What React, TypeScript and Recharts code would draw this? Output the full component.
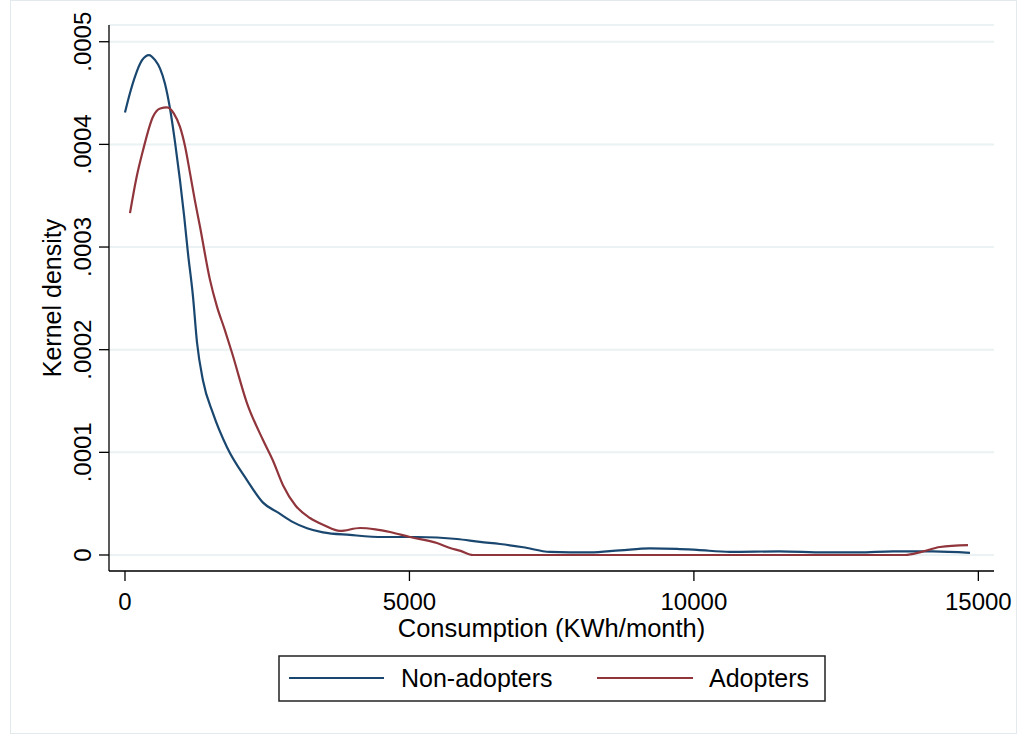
import React from "react";
import { CartesianGrid, Line, LineChart, XAxis, YAxis } from "recharts";

// kernel density estimates (x in KWh/month)
const NON_X = [0, 88, 176, 300, 422, 530, 615, 703, 800, 880, 967, 1040, 1107, 1195, 1266, 1371, 1547, 1793, 2144, 2426, 2700, 2953, 3200, 3480, 3955, 4535, 5133, 5836, 6240, 6592, 7000, 7471, 8174, 8700, 9229, 9700, 10055, 10635, 11500, 12300, 12900, 13500, 14200, 14853];
const NON_Y = [0.000431, 0.00045, 0.000466, 0.000482, 0.000487, 0.000482, 0.000474, 0.000459, 0.000432, 0.000402, 0.000365, 0.00033, 0.000294, 0.000252, 0.000207, 0.00017, 0.000138, 0.000105, 0.000073, 0.000051, 0.000041, 0.000032, 0.000026, 0.000022, 0.0000195, 0.0000175, 0.0000175, 0.0000156, 0.0000127, 0.0000107, 0.0000075, 0.000003, 0.0000025, 0.0000045, 0.0000065, 0.000006, 0.000005, 0.000003, 0.0000035, 0.0000025, 0.0000025, 0.0000035, 0.0000035, 0.000002];

const ADOPT_X = [88, 200, 316, 492, 620, 738, 860, 967, 1060, 1143, 1230, 1318, 1494, 1617, 1750, 1881, 2144, 2426, 2600, 2777, 3000, 3252, 3500, 3779, 4131, 4400, 4658, 5010, 5484, 5713, 5900, 6117, 13711, 14000, 14326, 14818];
const ADOPT_Y = [0.000333, 0.000367, 0.000394, 0.000427, 0.000435, 0.000436, 0.00043, 0.000417, 0.000397, 0.000372, 0.000345, 0.00032, 0.000268, 0.000242, 0.00022, 0.000197, 0.000148, 0.000112, 0.000092, 0.000068, 0.000048, 0.000036, 0.000029, 0.0000234, 0.0000263, 0.000025, 0.0000224, 0.0000175, 0.0000117, 0.0000068, 0.000004, 0, 0, 0.000003, 0.0000078, 0.0000097];

const X_TICKS = [0, 5000, 10000, 15000];
const Y_TICKS = [0, 0.0001, 0.0002, 0.0003, 0.0004, 0.0005];
const Y_TICK_LABELS = ["0", ".0001", ".0002", ".0003", ".0004", ".0005"];

const SERIES = ["Non-adopters", "Adopters"];
const COLORS = ["#1a476f", "#90353b"];

const FONT = "'Liberation Sans', Arial, sans-serif";

const nonData = NON_X.map((x, i) => ({ x, y: NON_Y[i] }));
const adoptData = ADOPT_X.map((x, i) => ({ x, y: ADOPT_Y[i] }));

function YTick({ y, payload }: any) {
  const i = Y_TICKS.indexOf(payload.value);
  const bx = 91;
  return (
    <text
      x={bx}
      y={y}
      transform={`rotate(-90 ${bx} ${y})`}
      textAnchor="middle"
      fontSize={24}
      fontFamily={FONT}
      fill="#000"
    >
      {i >= 0 ? Y_TICK_LABELS[i] : payload.value}
    </text>
  );
}

function XTick({ x, payload }: any) {
  return (
    <text x={x} y={610} textAnchor="middle" fontSize={24} fontFamily={FONT} fill="#000">
      {payload.value}
    </text>
  );
}

// legend drawn like Stata's boxed key below the plot
function KeyBox() {
  return (
    <svg width={548} height={48} style={{ position: "absolute", left: 278, top: 655 }}>
      <rect x={1} y={1} width={546} height={45} fill="#fff" stroke="#222" strokeWidth={1.5} />
      <line x1={11} x2={106} y1={23} y2={23} stroke={COLORS[0]} strokeWidth={2.2} />
      <text x={123} y={32} fontSize={25} fontFamily={FONT} fill="#000">{SERIES[0]}</text>
      <line x1={319} x2={415} y1={23} y2={23} stroke={COLORS[1]} strokeWidth={2.2} />
      <text x={431} y={32} fontSize={25} fontFamily={FONT} fill="#000">{SERIES[1]}</text>
    </svg>
  );
}

export default function App() {
  return (
    <div style={{ position: "absolute", left: 0, top: 0, width: 1018, height: 736, background: "#fff" }}>
      <div
        style={{
          position: "absolute",
          left: 10,
          top: 0,
          width: 1007,
          height: 734,
          border: "1px solid #e3eaed",
          boxSizing: "border-box",
        }}
      />
      <LineChart
        width={1018}
        height={736}
        margin={{ top: 25, right: 24, bottom: 115, left: 9 }}
        style={{ position: "absolute", left: 0, top: 0 }}
      >
        <CartesianGrid vertical={false} stroke="#eaf2f3" strokeWidth={2} />
        <XAxis
          dataKey="x"
          type="number"
          domain={[-281, 15275]}
          ticks={X_TICKS}
          allowDataOverflow
          height={50}
          tickSize={10}
          tick={<XTick />}
          axisLine={{ stroke: "#000", strokeWidth: 1.3 }}
          tickLine={{ stroke: "#000", strokeWidth: 1.3 }}
          label={{
            value: "Consumption (KWh/month)",
            position: "bottom",
            content: (p: any) => (
              <text
                x={p.viewBox.x + p.viewBox.width / 2}
                y={637}
                textAnchor="middle"
                fontSize={25.5}
                fontFamily={FONT}
                fill="#000"
              >
                Consumption (KWh/month)
              </text>
            ),
          }}
        />
        <YAxis
          type="number"
          domain={[-0.0000156, 0.0005163]}
          ticks={Y_TICKS}
          allowDataOverflow
          width={100}
          tickSize={10}
          tick={<YTick />}
          axisLine={{ stroke: "#000", strokeWidth: 1.3 }}
          tickLine={{ stroke: "#000", strokeWidth: 1.3 }}
          label={{
            value: "Kernel density",
            position: "left",
            content: (p: any) => {
              const cy = p.viewBox.y + p.viewBox.height / 2;
              return (
                <text
                  x={61}
                  y={cy}
                  transform={`rotate(-90 61 ${cy})`}
                  textAnchor="middle"
                  fontSize={25}
                  fontFamily={FONT}
                  fill="#000"
                >
                  Kernel density
                </text>
              );
            },
          }}
        />
        <Line
          data={nonData}
          dataKey="y"
          name={SERIES[0]}
          type="monotone"
          stroke={COLORS[0]}
          strokeWidth={2.2}
          dot={false}
          isAnimationActive={false}
        />
        <Line
          data={adoptData}
          dataKey="y"
          name={SERIES[1]}
          type="monotone"
          stroke={COLORS[1]}
          strokeWidth={2.2}
          dot={false}
          isAnimationActive={false}
        />
      </LineChart>
      <KeyBox />
    </div>
  );
}
